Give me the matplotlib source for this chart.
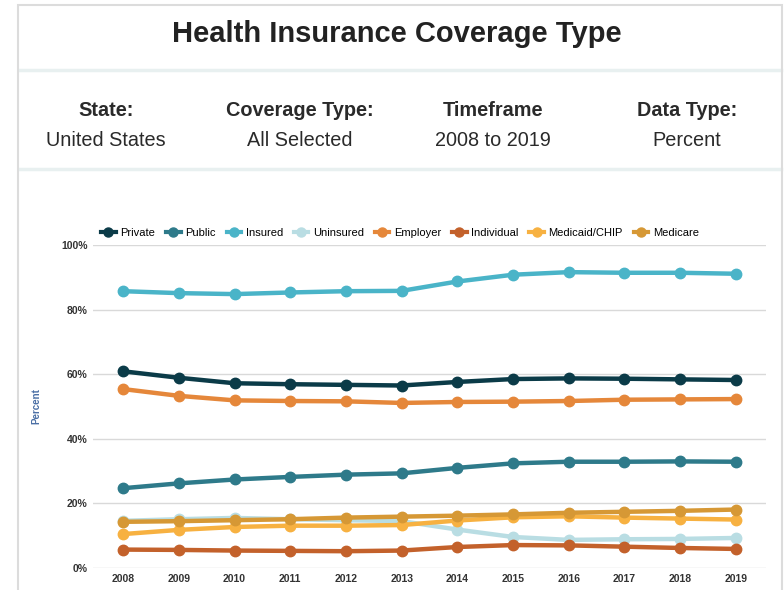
import numpy as np
import matplotlib.pyplot as plt
from matplotlib.lines import Line2D
from matplotlib.patches import Rectangle

plt.rcParams['font.family'] = ['Liberation Sans', 'DejaVu Sans']

# --- Data (percent of population) ---
years = np.arange(2008, 2020)
private = [60.9, 58.9, 57.2, 56.9, 56.7, 56.5, 57.6, 58.5, 58.7, 58.6, 58.4, 58.2]
public = [24.7, 26.2, 27.4, 28.2, 28.9, 29.3, 31.0, 32.4, 32.9, 32.9, 33.0, 32.9]
insured = [85.7, 85.1, 84.8, 85.3, 85.7, 85.8, 88.7, 90.8, 91.6, 91.4, 91.4, 91.1]
uninsured = [14.6, 15.1, 15.5, 15.1, 14.8, 14.5, 11.9, 9.6, 8.7, 8.9, 9.0, 9.3]
employer = [55.4, 53.3, 51.9, 51.7, 51.6, 51.1, 51.4, 51.5, 51.7, 52.1, 52.2, 52.3]
individual = [5.7, 5.6, 5.4, 5.3, 5.2, 5.4, 6.5, 7.1, 7.0, 6.6, 6.2, 5.9]
medicaid = [10.5, 11.8, 12.7, 13.1, 13.1, 13.3, 14.7, 15.7, 16.0, 15.6, 15.3, 15.0]
medicare = [14.3, 14.5, 14.8, 15.1, 15.6, 15.9, 16.2, 16.6, 17.1, 17.4, 17.7, 18.1]

series = [
    ("Private", private, '#0b3b48'),
    ("Public", public, '#2e7a8a'),
    ("Insured", insured, '#4ab4c8'),
    ("Uninsured", uninsured, '#b9dde3'),
    ("Employer", employer, '#e5873a'),
    ("Individual", individual, '#c3612b'),
    ("Medicaid/CHIP", medicaid, '#f7b141'),
    ("Medicare", medicare, '#d69835'),
]
# draw order (later on top)
draw_order = ["Insured", "Private", "Employer", "Public", "Uninsured",
              "Medicaid/CHIP", "Medicare", "Individual"]

filters = [("State:", "United States"), ("Coverage Type:", "All Selected"),
           ("Timeframe", "2008 to 2019"), ("Data Type:", "Percent")]
filter_x = [106, 300, 493, 687]

W, H = 784, 590
fig = plt.figure(figsize=(W / 100, H / 100), dpi=100)

# --- Card frame and header ---
fig.patches.append(Rectangle((18 / W, -0.01), 764 / W, (H - 5) / H + 0.01, transform=fig.transFigure,
                             facecolor='none', edgecolor='#dcdcdc', lw=1.5, zorder=-1))
for yy in [70, 169]:
    fig.add_artist(Line2D([19 / W, 781 / W], [1 - yy / H] * 2, transform=fig.transFigure,
                          color='#e8f0f0', lw=2.5, zorder=-1))

fig.text(397 / W, 1 - 34 / H, "Health Insurance Coverage Type", ha='center', va='center',
         fontsize=21, fontweight='bold', color='#222222')
for (lab, val), fx in zip(filters, filter_x):
    fig.text(fx / W, 1 - 111 / H, lab, ha='center', va='center', fontsize=14.3,
             fontweight='bold', color='#2a2a2a')
    fig.text(fx / W, 1 - 140 / H, val, ha='center', va='center', fontsize=14.3, color='#2a2a2a')

# --- Chart ---
ax = fig.add_axes([93 / W, 22 / H, 673 / W, 323 / H])
ax.patch.set_alpha(0)
lookup = {name: (vals, col) for name, vals, col in series}
for name in draw_order:
    vals, col = lookup[name]
    ax.plot(years, vals, color=col, lw=3.2, marker='o', markersize=7.5, clip_on=False)

ax.set_xlim(2007.46, 2019.54)
ax.set_ylim(0, 100)
ax.set_yticks(np.arange(0, 101, 20))
ax.set_yticklabels([f"{v}%" for v in range(0, 101, 20)])
ax.set_xticks(years)
ax.set_xticklabels([str(y) for y in years])
ax.grid(axis='y', color='#d9d9d9', lw=1)
ax.set_axisbelow(True)
for s in ax.spines.values():
    s.set_visible(False)
ax.tick_params(length=0, labelsize=7.5, colors='#333333', pad=4)
for t in ax.get_xticklabels() + ax.get_yticklabels():
    t.set_fontweight('bold')
ax.set_ylabel("Percent", fontsize=7, color='#4a6fa5', fontweight='bold', labelpad=14)

handles = [Line2D([], [], color=c, lw=3, marker='o', markersize=6.5) for _, _, c in series]
fig.legend(handles, [n for n, _, _ in series], loc='center', ncol=8,
           bbox_to_anchor=(400 / W, 1 - 233 / H), frameon=False, fontsize=8,
           handlelength=1.3, handletextpad=0.4, columnspacing=1.0)

fig.savefig("out.png", dpi=100)
